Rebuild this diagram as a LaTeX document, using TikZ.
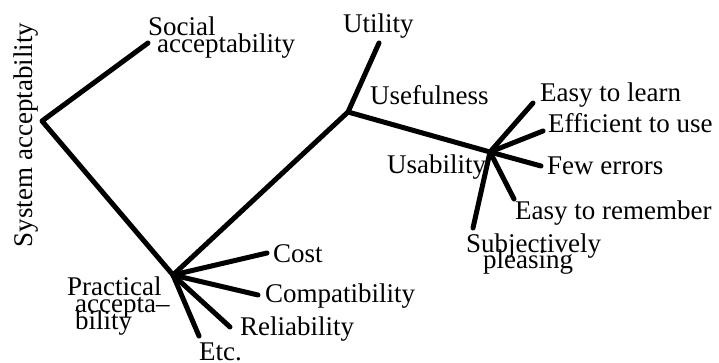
\documentclass[tikz,border=0pt]{standalone}
\usepackage{fontspec}
\setmainfont{Liberation Serif}
\begin{document}
\begin{tikzpicture}[x=1pt,y=-1pt,
  branch/.style={line width=5pt,line cap=round,line join=round},
  lbl/.style={anchor=base west,inner sep=0pt,font=\fontsize{27}{27}\selectfont}]
\useasboundingbox (0,0) rectangle (719,363);
% junctions
\coordinate (root) at (42,121);
\coordinate (practical) at (173,275);
\coordinate (usefulness) at (348,112);
\coordinate (usability) at (490,152);
% branch ends
\coordinate (socialEnd) at (148,43);
\coordinate (utilityEnd) at (379,43);
\coordinate (learnEnd) at (533,103);
\coordinate (efficientEnd) at (543,131);
\coordinate (errorsEnd) at (541,166);
\coordinate (rememberEnd) at (514,199);
\coordinate (pleasingEnd) at (473,228);
\coordinate (costEnd) at (267,253);
\coordinate (compatEnd) at (258,295);
\coordinate (reliabEnd) at (230,327);
\coordinate (etcEnd) at (199,336);
% tree
\draw[branch] (socialEnd) -- (root) -- (practical) -- (usefulness) -- (utilityEnd);
\draw[branch] (usefulness) -- (usability);
\foreach \e in {learnEnd,efficientEnd,errorsEnd,rememberEnd,pleasingEnd}
  \draw[branch] (usability) -- (\e);
\foreach \e in {costEnd,compatEnd,reliabEnd,etcEnd}
  \draw[branch] (practical) -- (\e);
% labels
\node[lbl,rotate=90,anchor=base] (system) at (32,135) {System acceptability};
\node[lbl] (social1) at (148,36) {Social};
\node[lbl] (social2) at (157,53) {acceptability};
\node[lbl] (utility) at (343,33) {Utility};
\node[lbl] (usefulnessL) at (370,105) {Usefulness};
\node[lbl] (usabilityL) at (387,174) {Usability};
\node[lbl] (learn) at (540,102) {Easy to learn};
\node[lbl] (efficient) at (548,133) {Efficient to use};
\node[lbl] (errors) at (547,175) {Few errors};
\node[lbl] (remember) at (515,219) {Easy to remember};
\node[lbl] (pleasing1) at (466,252) {Subjectively};
\node[lbl] (pleasing2) at (483,268) {pleasing};
\node[lbl] (cost) at (273,262) {Cost};
\node[lbl] (compat) at (265,302) {Compatibility};
\node[lbl] (reliab) at (240,335) {Reliability};
\node[lbl] (etc) at (199,360) {Etc.};
\node[lbl] (practical1) at (67,295) {Practical};
\node[lbl] (practical2) at (75,312) {accepta–};
\node[lbl] (practical3) at (75,329) {bility};
\end{tikzpicture}
\end{document}
